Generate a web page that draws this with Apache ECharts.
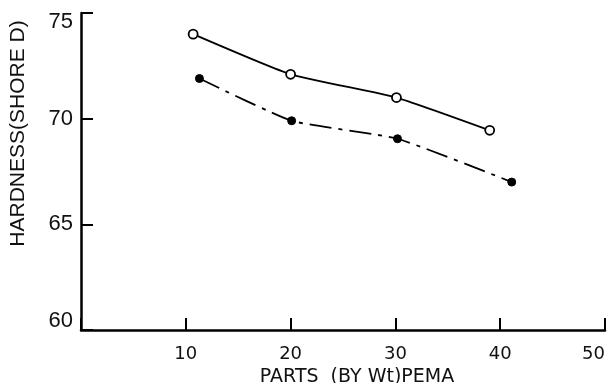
<!DOCTYPE html>
<html>
<head>
<meta charset="utf-8">
<script src="https://cdn.jsdelivr.net/npm/echarts@6/dist/echarts.min.js"></script>
<style>
  html, body { margin: 0; padding: 0; background: #fff; }
  #main { width: 608px; height: 383px; }
</style>
</head>
<body>
<div id="main"></div>
<script>
// 读图所得数据
var openX = [10.7, 20.0, 30.1, 39.0]
var openY = [74.0, 72.1, 71.0, 69.45]
var filledX = [11.3, 20.1, 30.2, 41.1]
var filledY = [71.9, 69.9, 69.05, 67.0]
var xTicks = [10, 20, 30, 40, 50]
var yTicks = [60, 65, 70, 75]

function pairs (xs, ys) {
  return xs.map(function (x, i) { return [x, ys[i]] })
}

var myChart = echarts.init(document.getElementById('main'))
myChart.setOption({
  animation: false,
  grid: { left: 81, right: 3, top: 13, bottom: 53, containLabel: false, outerBoundsMode: 'none' },
  xAxis: {
    type: 'value',
    min: 0,
    max: 50,
    interval: 10,
    name: 'PARTS  (BY Wt)PEMA',
    nameLocation: 'middle',
    nameGap: 31,
    nameTextStyle: { color: '#111', fontFamily: 'DejaVu Sans', fontSize: 19, padding: [0, 0, 0, 28] },
    splitLine: { show: false },
    axisLine: { lineStyle: { color: '#000', width: 2.5 } },
    axisTick: { inside: true, length: 12, lineStyle: { color: '#000', width: 2 } },
    axisLabel: {
      color: '#111',
      fontFamily: 'DejaVu Sans',
      fontSize: 18,
      margin: 15,
      alignMaxLabel: 'right',
      formatter: function (v) { return xTicks.indexOf(v) >= 0 ? String(v) : '' }
    }
  },
  yAxis: {
    type: 'value',
    min: 60,
    max: 75,
    interval: 5,
    name: 'HARDNESS(SHORE D)',
    nameLocation: 'middle',
    nameGap: 52,
    nameTextStyle: { color: '#111', fontFamily: 'Liberation Sans', fontSize: 21, padding: [0, 0, 0, 76] },
    splitLine: { show: false },
    axisLine: { lineStyle: { color: '#000', width: 2.5 } },
    axisTick: { inside: true, length: 12, lineStyle: { color: '#000', width: 2 } },
    axisLabel: {
      color: '#111',
      fontFamily: 'Liberation Sans',
      fontSize: 22,
      margin: 8,
      formatter: function (v) {
        if (yTicks.indexOf(v) < 0) return ''
        if (v === 75) return '{top|' + v + '}'
        if (v === 60) return '{bot|' + v + '}'
        return String(v)
      },
      rich: {
        top: { fontFamily: 'Liberation Sans', fontSize: 22, color: '#111', padding: [18, 0, 0, 0] },
        bot: { fontFamily: 'Liberation Sans', fontSize: 22, color: '#111', padding: [0, 0, 18, 0] }
      }
    }
  },
  series: [{
    name: 'open',
    type: 'line',
    smooth: 0.15,
    data: pairs(openX, openY),
    symbol: 'circle',
    symbolSize: 9,
    itemStyle: { color: '#fff', borderColor: '#000', borderWidth: 1.8 },
    lineStyle: { color: '#000', width: 1.8 },
    z: 3
  }, {
    name: 'filled',
    type: 'line',
    smooth: 0.15,
    data: pairs(filledX, filledY),
    symbol: 'circle',
    symbolSize: 8,
    itemStyle: { color: '#000', borderColor: '#000', borderWidth: 1 },
    lineStyle: { color: '#000', width: 1.8, type: [22, 7, 4, 7] },
    z: 3
  }]
})
</script>
</body>
</html>
